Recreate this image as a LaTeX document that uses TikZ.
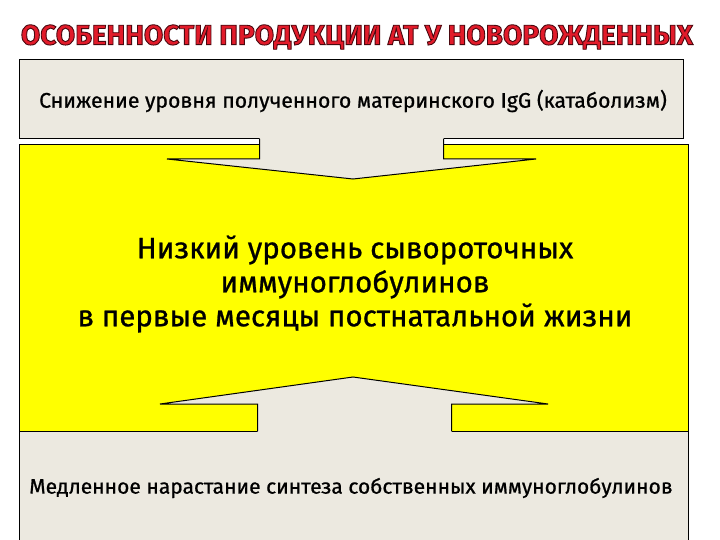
\documentclass[tikz,border=0pt]{standalone}
\usepackage{fontspec}
\setmainfont{Fira Sans}
\newfontfamily\heavyfont[FakeBold=0.8]{Fira Sans}
\definecolor{boxgray}{HTML}{ECE9E0}
\definecolor{boxyellow}{HTML}{FFFF00}
\definecolor{titlered}{HTML}{E21B2A}
\newcommand{\outlinedtitle}[1]{{\color{titlered}\special{pdf:literal 2 Tr 0.9 w 0.29 0.03 0.06 RG}#1\special{pdf:literal 0 Tr}}}
\tikzset{
  graybox/.style={draw=black, line width=1pt, fill=boxgray, inner sep=0pt},
  yellowbox/.style={draw=black, line width=1pt, fill=boxyellow, inner sep=0pt},
  arrowfill/.style={fill=boxgray},
  arrowline/.style={draw=black, line width=1pt, line join=miter},
  boxtext/.style={inner sep=0pt, text=black, align=center},
  titletext/.style={inner sep=0pt, font=\bfseries\fontsize{28}{32}\selectfont}
}
\begin{document}
\begin{tikzpicture}[x=1pt,y=-1pt]
\useasboundingbox (0,0) rectangle (720,540);
\clip (0,0) rectangle (720,540);
\fill[white] (0,0) rectangle (720,540);

% boxes
\node[graybox, minimum width=664pt, minimum height=79pt] (topbox) at (351,99.5) {};
\node[yellowbox, minimum width=669pt, minimum height=286pt] (midbox) at (353.5,288) {};
\node[graybox, minimum width=669pt, minimum height=130pt] (botbox) at (353.5,496) {};

% top arrow
\fill[arrowfill] (259.5,137) -- (259.5,159) -- (167,159) -- (353,179) -- (536,159) -- (443.5,159) -- (443.5,137) -- cycle;
\draw[arrowline] (259.5,139) -- (259.5,159) -- (167,159) -- (353,179) -- (536,159) -- (443.5,159) -- (443.5,139);

% bottom arrow
\fill[arrowfill] (257.5,433) -- (257.5,404) -- (160,404) -- (353,377) -- (548,404) -- (451.5,404) -- (451.5,433) -- cycle;
\draw[arrowline] (257.5,431) -- (257.5,404) -- (160,404) -- (353,377) -- (548,404) -- (451.5,404) -- (451.5,431);

% texts
\node[boxtext, font=\heavyfont\fontsize{21.2}{24}\selectfont] (toptext) at (353,101) {Снижение уровня полученного материнского IgG (катаболизм)};
\node[boxtext, font=\heavyfont\fontsize{29.5}{34}\selectfont] (midtext) at (355,284) {Низкий уровень сывороточных\\иммуноглобулинов\\в первые месяцы постнатальной жизни};
\node[boxtext, font=\heavyfont\fontsize{21}{24}\selectfont] (bottext) at (351,488) {Медленное нарастание синтеза собственных иммуноглобулинов};

\node[titletext] (title) at (357,37) {\outlinedtitle{ОСОБЕННОСТИ ПРОДУКЦИИ АТ У НОВОРОЖДЕННЫХ}};
\end{tikzpicture}
\end{document}
